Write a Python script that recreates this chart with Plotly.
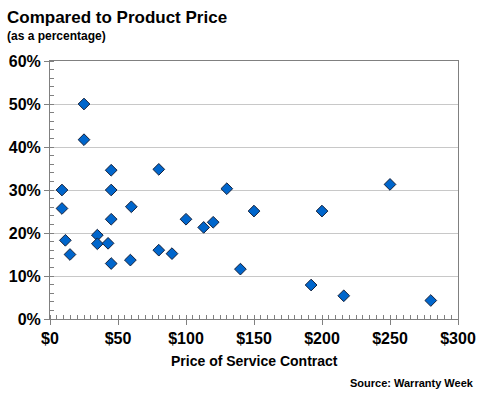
import plotly.graph_objects as go

price = [25, 25, 8.8, 45, 45, 80, 130,
         8.8, 11.3, 14.7, 45, 34.8, 34.8, 42.7, 45, 59.8, 59.1, 80, 89.7, 100, 113, 120, 140,
         150, 200, 250, 192, 216, 280]
pct = [50.0, 41.7, 30.0, 34.6, 30.0, 34.8, 30.3,
       25.7, 18.3, 15.0, 23.2, 19.5, 17.5, 17.6, 12.9, 26.1, 13.7, 16.0, 15.2, 23.2, 21.3, 22.5, 11.6,
       25.1, 25.1, 31.3, 7.9, 5.4, 4.3]

x_ticks = [0, 50, 100, 150, 200, 250, 300]
x_labels = ["$0", "$50", "$100", "$150", "$200", "$250", "$300"]
y_ticks = [0, 10, 20, 30, 40, 50, 60]
y_labels = ["0%", "10%", "20%", "30%", "40%", "50%", "60%"]

FONT = "Liberation Sans, Arial, sans-serif"

fig = go.Figure()
fig.add_trace(go.Scatter(
    x=price, y=pct, mode="markers",
    marker=dict(symbol="diamond", size=9, color="#0066CC",
                line=dict(color="#14203a", width=1)),
    hoverinfo="x+y", showlegend=False,
))

fig.update_layout(
    width=480, height=400,
    margin=dict(l=50, r=22, t=61, b=81, autoexpand=False),
    paper_bgcolor="white", plot_bgcolor="white",
    font=dict(family=FONT, color="black"),
    xaxis=dict(
        range=[0, 300], tickvals=x_ticks, ticktext=x_labels,
        showgrid=False, zeroline=False, automargin=False,
        showline=True, linecolor="#808080", linewidth=1, mirror=True,
        ticks="outside", ticklen=5, tickcolor="#808080",
        minor=dict(dtick=5, ticks="inside", ticklen=4, tickcolor="#808080", showgrid=False),
        tickfont=dict(family=FONT, size=16, color="black", weight="bold"),
        fixedrange=True,
    ),
    yaxis=dict(
        range=[0, 60], tickvals=y_ticks, ticktext=y_labels,
        showgrid=True, gridcolor="#c8c8c8", gridwidth=1, zeroline=False, automargin=False,
        showline=True, linecolor="#808080", linewidth=1, mirror=True,
        ticks="outside", ticklen=5, tickcolor="#808080",
        minor=dict(dtick=2, ticks="inside", ticklen=4, tickcolor="#808080", showgrid=False),
        tickfont=dict(family=FONT, size=16, color="black", weight="bold"),
        fixedrange=True,
    ),
    annotations=[
        dict(text="<b>Compared to Product Price</b>", xref="paper", yref="paper",
             x=-0.110, y=1.1705, xanchor="left", yanchor="middle", showarrow=False,
             font=dict(family=FONT, size=17, color="black")),
        dict(text="<b>(as a percentage)</b>", xref="paper", yref="paper",
             x=-0.110, y=1.0969, xanchor="left", yanchor="middle", showarrow=False,
             font=dict(family=FONT, size=12, color="black")),
        dict(text="<b>Price of Service Contract</b>", xref="paper", yref="paper",
             x=0.5, y=-0.1628, xanchor="center", yanchor="middle", showarrow=False,
             font=dict(family=FONT, size=14, color="black")),
        dict(text="<b>Source: Warranty Week</b>", xref="paper", yref="paper",
             x=1.044, y=-0.248, xanchor="right", yanchor="middle", showarrow=False,
             font=dict(family=FONT, size=11, color="black")),
    ],
)

fig.write_html(
    "out.html",
    config={"displayModeBar": False},
    post_script="document.body.style.margin='0';document.body.style.overflow='hidden';",
)
